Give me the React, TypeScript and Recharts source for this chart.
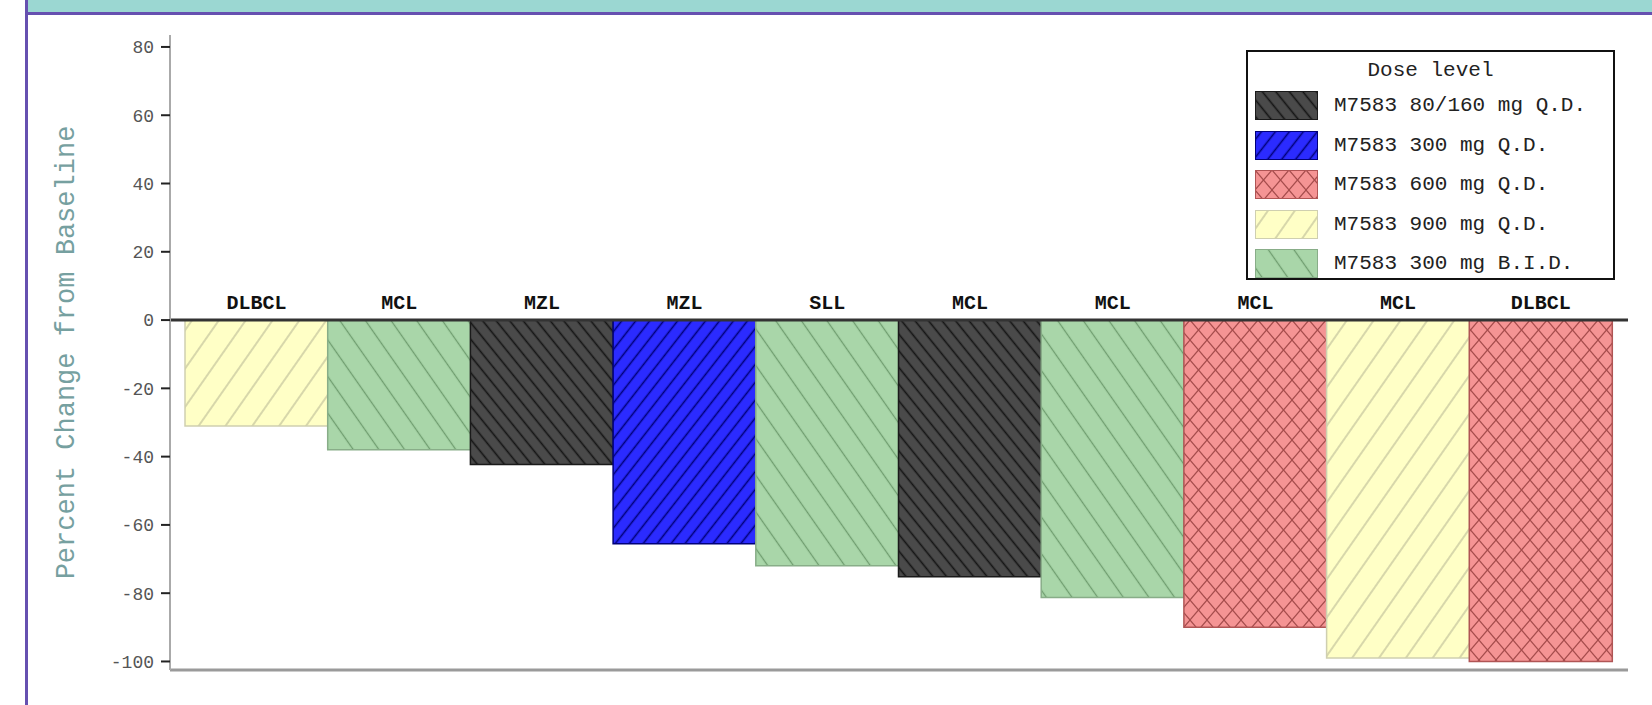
import { Bar, BarChart, Cell, ReferenceLine, XAxis, YAxis } from 'recharts'

const subtypes = ['DLBCL', 'MCL', 'MZL', 'MZL', 'SLL', 'MCL', 'MCL', 'MCL', 'MCL', 'DLBCL']
const pctChange = [-31, -38, -42.3, -65.5, -72, -75.2, -81.3, -90, -99, -100]
// index into doseLabels for each patient
const patientDose = [3, 4, 0, 1, 4, 0, 4, 2, 3, 2]
const doseLabels = [
  'M7583 80/160 mg Q.D.',
  'M7583 300 mg Q.D.',
  'M7583 600 mg Q.D.',
  'M7583 900 mg Q.D.',
  'M7583 300 mg B.I.D.',
]
const yTicks = [-100, -80, -60, -40, -20, 0, 20, 40, 60, 80]

const mono = "'Liberation Mono', 'Courier New', monospace"

const doseStyle = [
  { fill: '#4a4a4a', line: '#151515', stroke: '#1a1a1a', gap: 10.5, angle: -39, w: 1.6 },
  { fill: '#2b2bff', line: '#00007a', stroke: '#00007a', gap: 11, angle: 38, w: 1.6 },
  { fill: '#f59494', line: '#a54b4b', stroke: '#b05555', cross: true },
  { fill: '#ffffc6', line: '#c2c29c', stroke: '#cfcfb0', gap: 22, angle: 35, w: 1.3 },
  { fill: '#a9d6a9', line: '#6f9d6f', stroke: '#88ad88', gap: 21, angle: -35, w: 1.3 },
]

const data = subtypes.map((name, i) => ({ name, pct: pctChange[i], dose: patientDose[i] }))

function Patterns() {
  return (
    <svg width={0} height={0} style={{ position: 'absolute' }}>
      <defs>
        {doseStyle.map((s, i) =>
          s.cross ? (
            <pattern key={i} id={`dose${i}`} patternUnits="userSpaceOnUse" width={17} height={20}>
              <rect width={17} height={20} fill={s.fill} />
              <line x1={0} y1={0} x2={17} y2={20} stroke={s.line} strokeWidth={1.2} />
              <line x1={17} y1={0} x2={0} y2={20} stroke={s.line} strokeWidth={1.2} />
            </pattern>
          ) : (
            <pattern
              key={i}
              id={`dose${i}`}
              patternUnits="userSpaceOnUse"
              width={s.gap}
              height={s.gap}
              patternTransform={`rotate(${s.angle})`}
            >
              <rect width={s.gap} height={s.gap} fill={s.fill} />
              <line x1={s.gap! / 2} y1={0} x2={s.gap! / 2} y2={s.gap} stroke={s.line} strokeWidth={s.w} />
            </pattern>
          ),
        )}
      </defs>
    </svg>
  )
}

function SubtypeLabel(props: any) {
  const vb = props.viewBox ?? {}
  const x = props.x ?? vb.x
  const y = props.y ?? vb.y
  const width = props.width ?? vb.width
  const height = props.height ?? vb.height
  const top = Math.min(y, y + height)
  return (
    <text
      x={x + width / 2}
      y={top - 11}
      textAnchor="middle"
      fontFamily={mono}
      fontSize={20}
      fontWeight="bold"
      fill="#111"
    >
      {subtypes[props.index]}
    </text>
  )
}

function DoseLegend() {
  return (
    <div
      style={{
        position: 'absolute',
        left: 1246,
        top: 50,
        width: 365,
        height: 226,
        border: '2px solid #111',
        background: '#fff',
        fontFamily: mono,
        fontSize: 21,
        color: '#222',
      }}
    >
      <div style={{ position: 'absolute', left: 0, right: 0, top: 7, textAlign: 'center' }}>Dose level</div>
      {doseLabels.map((label, i) => (
        <div key={label} style={{ position: 'absolute', left: 7, top: 39 + i * 39.5, height: 29, display: 'flex', alignItems: 'center' }}>
          <svg width={63} height={29} style={{ display: 'block' }}>
            <rect x={0.5} y={0.5} width={62} height={28} fill={`url(#dose${i})`} stroke={doseStyle[i].stroke} />
          </svg>
          <span style={{ marginLeft: 16, whiteSpace: 'pre' }}>{label}</span>
        </div>
      ))}
    </div>
  )
}

export default function App() {
  return (
    <div style={{ position: 'absolute', left: 0, top: 0, width: 1652, height: 705, background: '#fff', overflow: 'hidden' }}>
      <Patterns />
      <div style={{ position: 'absolute', left: 25, top: 0, width: 3, height: 705, background: '#6650b0' }} />
      <div style={{ position: 'absolute', left: 28, top: 0, right: 0, height: 12, background: '#9bd7d2' }} />
      <div style={{ position: 'absolute', left: 28, top: 12, right: 0, height: 3, background: '#6650b0' }} />
      <div style={{ position: 'absolute', left: 0, top: 0 }}>
        <BarChart
          width={1652}
          height={705}
          data={data}
          margin={{ top: 35, right: 24, bottom: 30, left: 0 }}
          barCategoryGap={0}
        >
          <XAxis
            dataKey="name"
            tick={false}
            tickLine={false}
            height={5}
            axisLine={{ stroke: '#9a9a9a', strokeWidth: 3 }}
            padding={{ left: 15, right: 16 }}
          />
          <YAxis
            width={170}
            domain={[-102.5, 83.5]}
            ticks={yTicks}
            interval={0}
            tick={{ fill: '#555', fontSize: 18, fontFamily: mono }}
            tickLine={{ stroke: '#222', strokeWidth: 2 }}
            tickSize={9}
            tickMargin={7}
            axisLine={{ stroke: '#aaa', strokeWidth: 2 }}
            label={{
              value: 'Percent Change from Baseline',
              angle: -90,
              position: 'insideLeft',
              offset: 64,
              style: { textAnchor: 'middle', fill: '#76a0a0', fontSize: 27, fontFamily: mono },
            }}
          />
          <Bar dataKey="pct" isAnimationActive={false} label={SubtypeLabel}>
            {data.map((d, i) => (
              <Cell key={i} fill={`url(#dose${d.dose})`} stroke={doseStyle[d.dose].stroke} strokeWidth={1.5} />
            ))}
          </Bar>
          <ReferenceLine y={0} stroke="#333" strokeWidth={3} />
        </BarChart>
      </div>
      <DoseLegend />
    </div>
  )
}
